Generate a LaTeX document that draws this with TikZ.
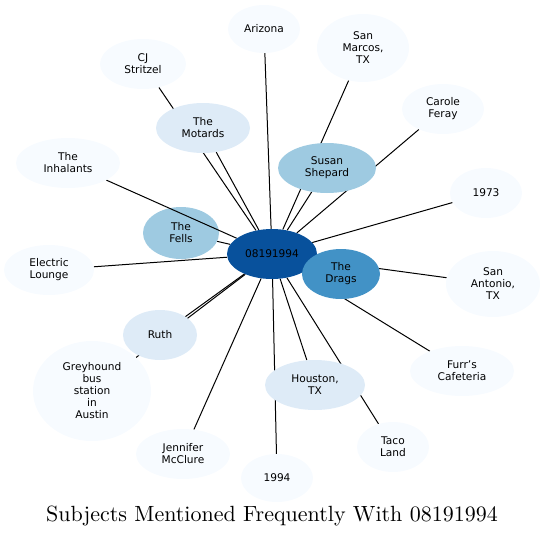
\documentclass[tikz,border=0pt]{standalone}
\usepackage{fontspec}
\setsansfont{DejaVu Sans}
\newfontfamily\titlefont{lmroman10-regular}[Extension=.otf]
\usetikzlibrary{shapes.geometric}
\pgfdeclarelayer{bottom}
\pgfdeclarelayer{background}
\pgfsetlayers{bottom,background,main}
\definecolor{blueA}{HTML}{F7FBFF}
\definecolor{blueB}{HTML}{DEEBF7}
\definecolor{blueC}{HTML}{9ECAE1}
\definecolor{blueD}{HTML}{4292C6}
\definecolor{blueE}{HTML}{08519C}

\begin{document}
\begin{tikzpicture}[x=1pt,y=-1pt]
  \tikzstyle{topic}=[ellipse,draw=none,inner sep=0pt,align=center,text=black,
    font=\sffamily\fontsize{10.6}{12}\selectfont]
  \tikzstyle{small}=[topic,minimum width=74,minimum height=50]
  \tikzstyle{link}=[draw=black,line width=1pt]

  \useasboundingbox (0,0) rectangle (545,538);

  \node[topic,fill=blueE,minimum width=90,minimum height=50] (S) at (272,254) {08191994};
  \node[topic,fill=blueD,minimum width=78,minimum height=50] (drags) at (341,274) {The\\Drags};
  \node[topic,fill=blueC,minimum width=98,minimum height=50] (susan) at (327,168) {Susan\\Shepard};
  \begin{pgfonlayer}{bottom}
    \node[topic,fill=blueC,minimum width=76,minimum height=52] (fells) at (181,233) {The\\Fells};
  \end{pgfonlayer}
  \node[topic,fill=blueB,minimum width=94,minimum height=50] (motards) at (203,128) {The\\Motards};
  \node[topic,fill=blueB,minimum width=74,minimum height=50] (ruth) at (160,335) {Ruth};
  \node[topic,fill=blueB,minimum width=100,minimum height=50] (houston) at (315,385) {Houston,\\TX};

  \node[small,fill=blueA,minimum width=72,minimum height=48] (arizona) at (264,29) {Arizona};
  \node[topic,fill=blueA,minimum width=92,minimum height=68] (marcos) at (363,48) {San\\Marcos,\\TX};
  \node[topic,fill=blueA,minimum width=82,minimum height=50] (carole) at (443,109) {Carole\\Feray};
  \node[small,fill=blueA,minimum width=72] (y1973) at (486,193) {1973};
  \node[topic,fill=blueA,minimum width=94,minimum height=66] (antonio) at (493,284) {San\\Antonio,\\TX};
  \node[topic,fill=blueA,minimum width=104,minimum height=50] (furr) at (462,371) {Furr's\\Cafeteria};
  \node[small,fill=blueA,minimum width=72] (taco) at (393,447) {Taco\\Land};
  \node[small,fill=blueA,minimum width=72,minimum height=48] (y1994) at (277,478) {1994};
  \node[topic,fill=blueA,minimum width=94,minimum height=50] (jennifer) at (183,454) {Jennifer\\McClure};
  \node[topic,fill=blueA,minimum width=118,minimum height=100] (grey) at (92,391) {Greyhound\\bus\\station\\in\\Austin};
  \node[topic,fill=blueA,minimum width=90,minimum height=50] (electric) at (49,270) {Electric\\Lounge};
  \node[topic,fill=blueA,minimum width=104,minimum height=50] (inhal) at (68,163) {The\\Inhalants};
  \node[topic,fill=blueA,minimum width=86,minimum height=50] (cj) at (143,64) {CJ\\Stritzel};

  \node (title) at (272,516) {\titlefont\fontsize{22}{26}\selectfont Subjects Mentioned Frequently With 08191994};

  \begin{pgfonlayer}{background}
    \path[link] (S) edge[link] (arizona)
              edge[link] (marcos)
              edge[link] (carole)
              edge[link] (susan)
              edge[link] (y1973)
              edge[link] (drags)
              edge[link] (antonio)
              edge[link] (furr)
              edge[link] (taco)
              edge[link] (houston)
              edge[link] (y1994)
              edge[link] (jennifer)
              edge[link] (grey)
              edge[link] (ruth)
              edge[link] (electric)
              edge[link] (fells)
              edge[link] (inhal)
              edge[link] (motards)
              edge[link] (cj);
  \end{pgfonlayer}
\end{tikzpicture}
\end{document}
